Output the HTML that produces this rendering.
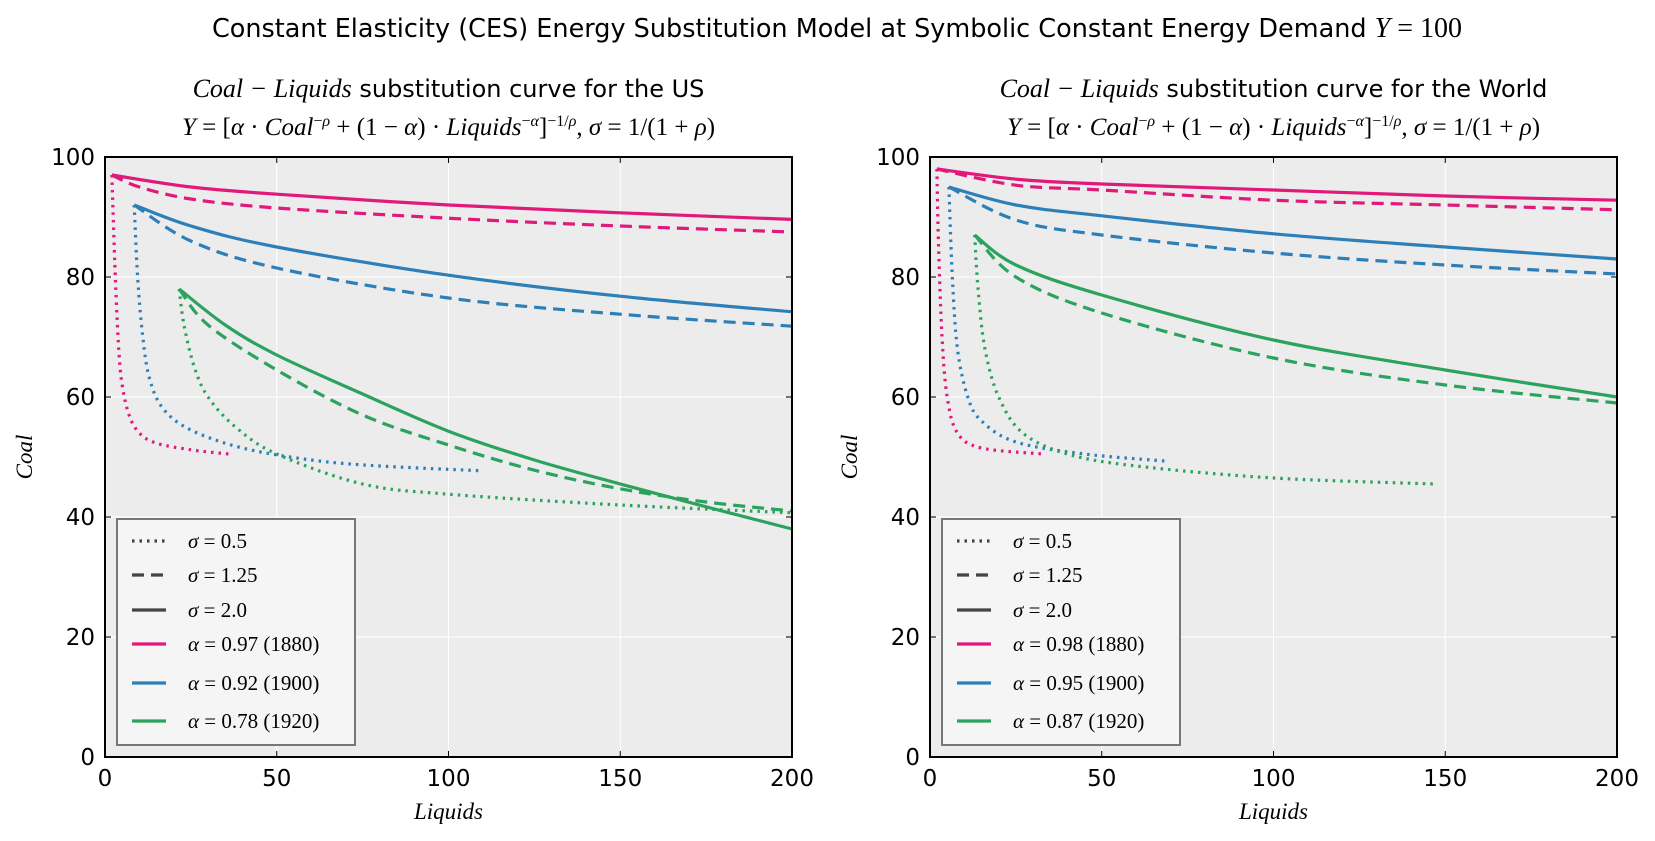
<!DOCTYPE html>
<html><head><meta charset="utf-8"><style>
body{margin:0;background:#fff;}
svg{display:block;font-family:"DejaVu Sans","Liberation Sans",sans-serif;}
.m{font-family:"Liberation Serif",serif;font-style:italic;}
</style></head><body>
<svg id="fig" width="1655" height="841">
<text x="837" y="37" text-anchor="middle" font-size="25.5">Constant Elasticity (CES) Energy Substitution Model at Symbolic Constant Energy Demand <tspan class="m" font-size="28">Y</tspan><tspan font-family="Liberation Serif" font-size="28"> = 100</tspan></text>
</svg>
<script>
// ---------- data ----------
const usAlpha = ["0.97","0.92","0.78"];
const worldAlpha = ["0.98","0.95","0.87"];
const years = ["1880","1900","1920"];
const sigmaLabels = ["0.5","1.25","2.0"];
const xTicks = [0,50,100,150,200];
const yTicks = [0,20,40,60,80,100];
// US series: [L, Coal] pairs
const usPinkSolid = [[2,97],[25,95],[50,93.8],[100,92],[150,90.7],[200,89.6]];
const usPinkDash = [[2,97],[10,95],[25,93],[50,91.5],[100,89.8],[150,88.5],[200,87.5]];
const usPinkDot = [[2,97],[3,80],[4,68],[5,62],[7,57],[10,54],[15,52.3],[25,51.2],[36,50.5]];
const usBlueSolid = [[8.5,92],[25,88.5],[50,85],[100,80.3],[150,76.8],[200,74.2]];
const usBlueDash = [[8.5,92],[25,86],[50,81.5],[100,76.5],[150,73.8],[200,71.8]];
const usBlueDot = [[8.5,92],[9.5,80],[11,70],[13,63],[17,58],[25,54.5],[40,51.5],[60,49.5],[80,48.5],[110,47.7]];
const usGreenSolid = [[21.6,78],[35,72],[50,67],[75,60.5],[100,54.3],[125,49.5],[150,45.5],[175,41.7],[200,38]];
const usGreenDash = [[21.6,78],[30,72],[50,64.5],[75,57],[100,52],[125,47.8],[150,44.7],[175,42.5],[200,41]];
const usGreenDot = [[21.6,78],[23,72],[26,65],[30,60],[38,55],[50,50.5],[75,45.5],[100,43.8],[150,42],[200,40.7]];
// World series
const wPinkSolid = [[2,98],[25,96.3],[50,95.5],[100,94.5],[150,93.5],[200,92.8]];
const wPinkDash = [[2,98],[25,95.3],[50,94.5],[100,92.8],[150,92],[200,91.2]];
const wPinkDot = [[2,98],[2.5,85],[3.5,70],[5,60],[8,54],[15,51.5],[33,50.5]];
const wBlueSolid = [[5.5,95],[25,92],[50,90.2],[100,87.2],[150,85],[200,83]];
const wBlueDash = [[5.5,95],[25,89.5],[50,87],[100,84],[150,82],[200,80.5]];
const wBlueDot = [[5.5,95],[6.5,80],[8,68],[11,60],[15,56],[25,52.5],[45,50.5],[69,49.3]];
const wGreenSolid = [[13,87],[25,82],[50,77],[100,69.5],[150,64.5],[200,60]];
const wGreenDash = [[13,87],[25,80],[50,74],[100,66.5],[150,62],[200,59]];
const wGreenDot = [[13,87],[14,78],[16,68],[20,60],[27,54],[40,50.5],[60,48.5],[100,46.5],[147,45.5]];

const COLORS=["#e0197a","#2c7fb8","#2ca25f"];
const DASH={solid:"",dash:"12,7",dot:"2.5,5"};
const NS="http://www.w3.org/2000/svg";
const svg=document.getElementById('fig');
function mk(tag,attrs,parent){const e=document.createElementNS(NS,tag);for(const k in attrs)e.setAttribute(k,attrs[k]);(parent||svg).appendChild(e);return e;}

function panel(x0,region,alphas,series,suffix){
  const W=687,H=600,y0=157;
  const sx=v=>x0+v/200*W, sy=v=>y0+H-v/100*H;
  const g=mk('g',{});
  
  
  const bg=mk('rect',{x:x0,y:y0,width:W,height:H,fill:'#ececec'},g);
  
  
  xTicks.forEach(t=>{
    const l=mk('line',{x1:sx(t),x2:sx(t),y1:y0,y2:y0+H,stroke:'#fff','stroke-width':1},g);
    
    mk('line',{x1:sx(t),x2:sx(t),y1:y0+H,y2:y0+H-6,stroke:'#000'},g);
    mk('line',{x1:sx(t),x2:sx(t),y1:y0,y2:y0+6,stroke:'#000'},g);
    const tx=mk('text',{x:sx(t),y:786,'text-anchor':'middle','font-size':23},g);tx.textContent=t;
    
  });
  yTicks.forEach(t=>{
    const l=mk('line',{x1:x0,x2:x0+W,y1:sy(t),y2:sy(t),stroke:'#fff','stroke-width':1},g);
    
    mk('line',{x1:x0,x2:x0+6,y1:sy(t),y2:sy(t),stroke:'#000'},g);
    mk('line',{x1:x0+W,x2:x0+W-6,y1:sy(t),y2:sy(t),stroke:'#000'},g);
    const tx=mk('text',{x:x0-10,y:sy(t)+8,'text-anchor':'end','font-size':23},g);tx.textContent=t;
    
  });
  const styles=['dot','dash','solid'];
  series.forEach((row,ci)=>row.forEach((pts,si)=>{
    const P=pts.map(p=>[sx(p[0]),sy(p[1])]);
    let d='M'+P[0][0]+','+P[0][1];
    for(let i=0;i<P.length-1;i++){
      const p0=P[Math.max(i-1,0)],p1=P[i],p2=P[i+1],p3=P[Math.min(i+2,P.length-1)];
      const c1=[p1[0]+(p2[0]-p0[0])/6,p1[1]+(p2[1]-p0[1])/6],c2=[p2[0]-(p3[0]-p1[0])/6,p2[1]-(p3[1]-p1[1])/6];
      d+=` C${c1[0]},${c1[1]} ${c2[0]},${c2[1]} ${p2[0]},${p2[1]}`;
    }
    const path=mk('path',{d:d,fill:'none',stroke:COLORS[ci],'stroke-width':3.2,'stroke-dasharray':DASH[styles[si]]},g);
    
    
  }));
  const fr=mk('rect',{x:x0,y:y0,width:W,height:H,fill:'none',stroke:'#000','stroke-width':2},g);
  
  // titles
  const t1=mk('text',{x:x0+W/2,y:97,'text-anchor':'middle','font-size':24},g);
  t1.innerHTML='<tspan class="m" font-size="26">Coal − Liquids</tspan> substitution curve for the '+suffix;
  
  const t2=mk('text',{x:x0+W/2,y:135,'text-anchor':'middle','font-size':25,'font-family':'Liberation Serif'},g);
  t2.innerHTML='<tspan class="m">Y</tspan> = [<tspan class="m">α</tspan> · <tspan class="m">Coal</tspan><tspan dy="-9" font-size="16">−<tspan class="m">ρ</tspan></tspan><tspan dy="9"> + (1 − </tspan><tspan class="m">α</tspan>) · <tspan class="m">Liquids</tspan><tspan dy="-9" font-size="16">−<tspan class="m">α</tspan></tspan><tspan dy="9">]</tspan><tspan dy="-9" font-size="16">−1/<tspan class="m">ρ</tspan></tspan><tspan dy="9">, </tspan><tspan class="m">σ</tspan> = 1/(1 + <tspan class="m">ρ</tspan>)';
  
  const xl=mk('text',{x:x0+W/2,y:819,'text-anchor':'middle','font-size':23,class:'m'},g);xl.textContent='Liquids';
  
  const yl=mk('text',{x:0,y:0,'text-anchor':'middle','font-size':23,class:'m',transform:`translate(${x0-73},457) rotate(-90)`},g);yl.textContent='Coal';
  
  // legend
  const lg=mk('g',{},g);
  
  mk('rect',{x:x0+12,y:519,width:238,height:226,fill:'#f5f5f5',stroke:'#777','stroke-width':2},lg);
  const ys=[541,575,610,644,683,721];
  const items=[];
  sigmaLabels.forEach((s,i)=>items.push({c:'#444',d:DASH[styles[i]],t:'<tspan class="m">σ</tspan> = '+s}));
  alphas.forEach((a,i)=>items.push({c:COLORS[i],d:'',t:'<tspan class="m">α</tspan> = '+a+' ('+years[i]+')'}));
  items.forEach((it,i)=>{
    const e=mk('g',{},lg);
    
    mk('line',{x1:x0+27,x2:x0+61,y1:ys[i],y2:ys[i],stroke:it.c,'stroke-width':3.2,'stroke-dasharray':it.d},e);
    const tx=mk('text',{x:x0+83,y:ys[i]+7,'font-size':21,'font-family':'Liberation Serif'},e);tx.innerHTML=it.t;
  });
}
panel(105,'us',usAlpha,[[usPinkDot,usPinkDash,usPinkSolid],[usBlueDot,usBlueDash,usBlueSolid],[usGreenDot,usGreenDash,usGreenSolid]],'US');
panel(930,'world',worldAlpha,[[wPinkDot,wPinkDash,wPinkSolid],[wBlueDot,wBlueDash,wBlueSolid],[wGreenDot,wGreenDash,wGreenSolid]],'World');
</script>
</body></html>
